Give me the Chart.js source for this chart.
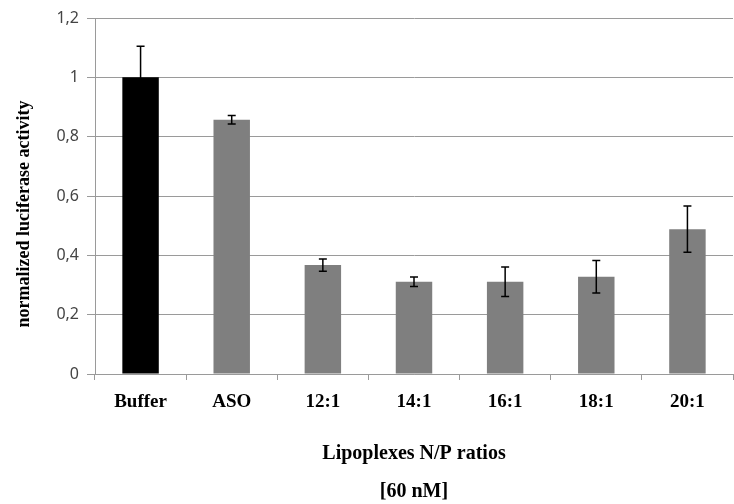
<!DOCTYPE html>
<html>
<head>
<meta charset="utf-8">
<script src="https://cdn.jsdelivr.net/npm/chart.js@4.4.0/dist/chart.umd.min.js"></script>
<style>
  html, body { margin: 0; padding: 0; background: #fff; }
  #wrap { width: 734px; height: 504px; }
</style>
</head>
<body>
<div id="wrap"><canvas id="lucChart" width="734" height="504"></canvas></div>
<script>
// DATA
const categories = ['Buffer', 'ASO', '12:1', '14:1', '16:1', '18:1', '20:1'];
const activity = [1.0, 0.857, 0.367, 0.311, 0.311, 0.328, 0.488];
const errors = [0.105, 0.014, 0.021, 0.016, 0.05, 0.055, 0.078];
const barColors = ['#000000', '#7f7f7f', '#7f7f7f', '#7f7f7f', '#7f7f7f', '#7f7f7f', '#7f7f7f'];
const yTicks = [0, 0.2, 0.4, 0.6, 0.8, 1, 1.2];

// ERROR BARS, drawn through the y scale
const errorBarPlugin = {
  id: 'errorBars',
  afterDatasetsDraw(chart) {
    const ctx = chart.ctx;
    const yScale = chart.scales.y;
    const meta = chart.getDatasetMeta(0);
    ctx.save();
    ctx.strokeStyle = '#000';
    ctx.lineWidth = 1.5;
    meta.data.forEach((bar, i) => {
      const x = bar.x;
      const top = yScale.getPixelForValue(activity[i] + errors[i]);
      const bottom = yScale.getPixelForValue(activity[i] - errors[i]);
      ctx.beginPath();
      ctx.moveTo(x, top);
      ctx.lineTo(x, bottom);
      ctx.moveTo(x - 4, top);
      ctx.lineTo(x + 4, top);
      ctx.moveTo(x - 4, bottom);
      ctx.lineTo(x + 4, bottom);
      ctx.stroke();
    });
    ctx.restore();
  }
};

const gridColor = '#9a9a9a';

new Chart(document.getElementById('lucChart'), {
  type: 'bar',
  data: {
    labels: categories,
    datasets: [{
      data: activity,
      backgroundColor: barColors,
      borderWidth: 0,
      categoryPercentage: 1,
      barPercentage: 0.4,
    }],
  },
  options: {
    responsive: false,
    animation: false,
    layout: { padding: { top: 18, right: 1, bottom: 0, left: 0 } },
    plugins: {
      legend: { display: false },
      tooltip: { enabled: false },
    },
    scales: {
      x: {
        grid: {
          display: true,
          drawOnChartArea: false,
          offset: true,
          tickLength: 6,
          color: gridColor,
        },
        border: { color: gridColor },
        ticks: {
          padding: 11,
          color: '#000',
          font: { family: 'Liberation Serif', size: 19, weight: 'bold' },
        },
        title: {
          display: true,
          text: ['Lipoplexes N/P ratios', '', '[60 nM]'],
          color: '#000',
          font: { family: 'Liberation Serif', size: 20, weight: 'bold', lineHeight: 0.95 },
          padding: { top: 0, bottom: 3 },
        },
        afterFit: (scale) => { scale.height = 130; },
      },
      y: {
        min: 0,
        max: 1.2,
        afterBuildTicks: (scale) => { scale.ticks = yTicks.map((v) => ({ value: v })); },
        grid: { color: gridColor, tickLength: 8 },
        border: { color: gridColor },
        ticks: {
          padding: 8,
          color: '#444',
          font: { family: 'Noto Sans', size: 16 },
          callback: (value) => String(Math.round(value * 10) / 10).replace('.', ','),
        },
        title: {
          display: true,
          text: 'normalized luciferase activity\u00a0\u00a0\u00a0\u00a0\u00a0\u00a0\u00a0\u00a0',
          color: '#000',
          font: { family: 'Liberation Serif', size: 18, weight: 'bold' },
          padding: { top: 14, bottom: 0 },
        },
        afterFit: (scale) => { scale.width = 95; },
      },
    },
  },
  plugins: [errorBarPlugin],
});
</script>
</body>
</html>
